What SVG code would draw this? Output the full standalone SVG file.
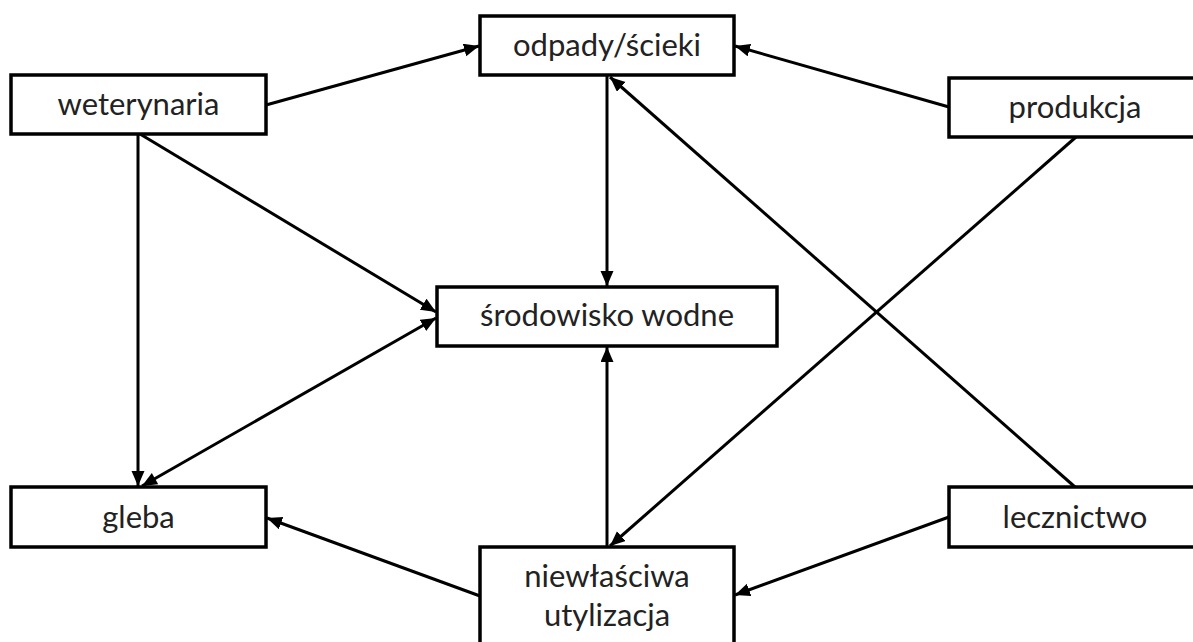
<svg xmlns="http://www.w3.org/2000/svg" width="1193" height="642" viewBox="0 0 1193 642">
<defs>
<style>
.box{fill:#fff;stroke:#000;stroke-width:3.5}
.lbl{font-family:Lato,"Open Sans",sans-serif;font-size:31px;fill:#222;text-anchor:middle}
.con{stroke:#000;stroke-width:3;fill:none}
.a{marker-end:url(#ah)}
.ab{marker-end:url(#ah);marker-start:url(#ahs)}
</style>
<marker id="ah" markerUnits="userSpaceOnUse" markerWidth="16" markerHeight="14" refX="15" refY="6.5" orient="auto">
<path d="M0,0 L15,6.5 L0,13 z" fill="#000"/>
</marker>
<marker id="ahs" markerUnits="userSpaceOnUse" markerWidth="16" markerHeight="14" refX="0" refY="6.5" orient="auto">
<path d="M15,0 L0,6.5 L15,13 z" fill="#000"/>
</marker>
</defs>
<rect width="1193" height="642" fill="#fff"/>
<g id="connectors">
<line class="con a" x1="266" y1="105" x2="479" y2="46"/>
<line class="con a" x1="949" y1="107" x2="735" y2="46"/>
<line class="con a" x1="607" y1="76" x2="607" y2="286"/>
<line class="con a" x1="1075" y1="487" x2="610" y2="77"/>
<line class="con a" x1="1076" y1="137" x2="610" y2="546"/>
<line class="con a" x1="138" y1="134" x2="138" y2="486"/>
<line class="con a" x1="140" y1="134" x2="436" y2="312"/>
<line class="con ab" x1="142" y1="486" x2="436" y2="318"/>
<line class="con a" x1="607" y1="547" x2="607" y2="347"/>
<line class="con a" x1="480" y1="596" x2="267" y2="518"/>
<line class="con a" x1="949" y1="517" x2="735" y2="595"/>
</g>
<g id="weterynaria"><rect class="box" x="11" y="75" width="255" height="59"/><text class="lbl" x="138.5" y="115">weterynaria</text></g>
<g id="odpady"><rect class="box" x="480" y="16" width="254" height="59"/><text class="lbl" x="607" y="56">odpady/ścieki</text></g>
<g id="produkcja"><rect class="box" x="949" y="78" width="254" height="59"/><text class="lbl" x="1075" y="118">produkcja</text></g>
<g id="srodowisko"><rect class="box" x="437" y="287" width="340" height="59"/><text class="lbl" x="607" y="326">środowisko wodne</text></g>
<g id="gleba"><rect class="box" x="11" y="487" width="255" height="60"/><text class="lbl" x="138.5" y="528">gleba</text></g>
<g id="lecznictwo"><rect class="box" x="949" y="487" width="254" height="60"/><text class="lbl" x="1075" y="528">lecznictwo</text></g>
<g id="niewlasciwa"><rect class="box" x="480" y="547" width="254" height="110"/><text class="lbl" x="607" y="587">niewłaściwa</text><text class="lbl" x="607" y="626">utylizacja</text></g>
</svg>
